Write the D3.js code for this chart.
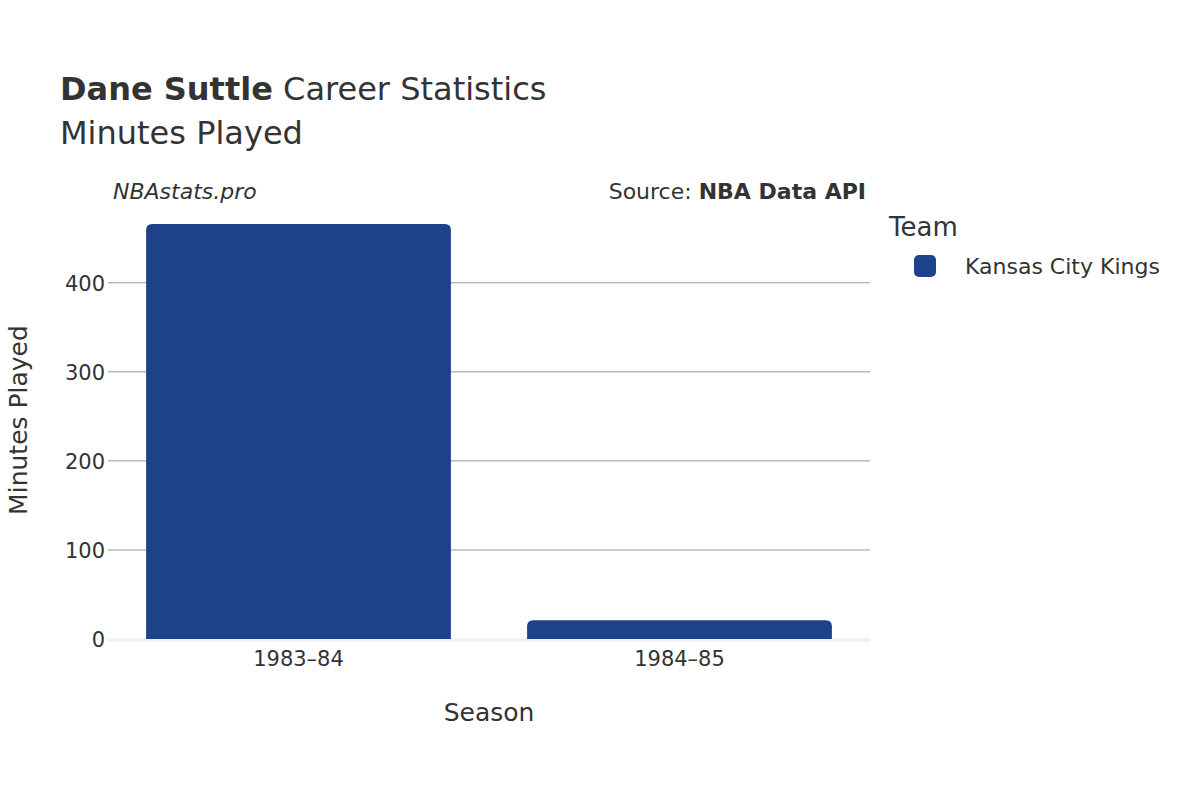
<!DOCTYPE html>
<html><head><meta charset="utf-8">
<script src="https://cdn.jsdelivr.net/npm/d3@7"></script>
<style>body{margin:0;background:#fff}text{font-family:"DejaVu Sans",sans-serif;fill:#333}</style>
</head><body><svg id="c" width="1200" height="800"></svg>
<script>
const seasons = ["1983\u201384", "1984\u201385"];
const minutes = [466, 21];
const ticks = [0, 100, 200, 300, 400];
const team = "Kansas City Kings";
const color = "#1d4289";

const svg = d3.select("#c");
const m = {left: 108, right: 870, top: 224, bottom: 639};
const x = d3.scaleBand().domain(seasons).range([m.left, m.right]).paddingInner(0.2).paddingOuter(0.1);
const y = d3.scaleLinear().domain([0, 466]).range([m.bottom, m.top]);

// grid
svg.append("g").selectAll("line").data(ticks.filter(t => t > 0)).join("line")
  .attr("x1", m.left).attr("x2", m.right).attr("y1", d => y(d)).attr("y2", d => y(d))
  .attr("stroke", "#999").attr("stroke-width", 1);
svg.append("line").attr("x1", m.left).attr("x2", m.right).attr("y1", y(0) + 1).attr("y2", y(0) + 1)
  .attr("stroke", "#eee").attr("stroke-width", 3);
svg.append("g").selectAll("text").data(ticks).join("text")
  .attr("x", m.left - 3).attr("y", d => y(d) + 8).attr("text-anchor", "end")
  .attr("font-size", 21).text(d => d);

// bars with rounded top
const r = 6;
svg.append("g").selectAll("path").data(seasons).join("path")
  .attr("fill", color)
  .attr("d", (s, i) => {
    const x0 = x(s), w = x.bandwidth(), y0 = y(minutes[i]), yb = y(0);
    return `M${x0},${yb}V${y0 + r}Q${x0},${y0} ${x0 + r},${y0}H${x0 + w - r}Q${x0 + w},${y0} ${x0 + w},${y0 + r}V${yb}Z`;
  });
svg.append("g").selectAll("text").data(seasons).join("text")
  .attr("x", d => x(d) + x.bandwidth() / 2).attr("y", 666).attr("text-anchor", "middle")
  .attr("font-size", 21).text(d => d);

// titles
const t = svg.append("text").attr("x", 60).attr("y", 100).attr("font-size", 32);
t.append("tspan").attr("font-weight", "bold").text("Dane Suttle");
t.append("tspan").text(" Career Statistics");
svg.append("text").attr("x", 60).attr("y", 144).attr("font-size", 32).text("Minutes Played");
svg.append("text").attr("x", 113).attr("y", 199).attr("font-size", 22).attr("font-style", "italic").text("NBAstats.pro");
const s = svg.append("text").attr("x", 866).attr("y", 199).attr("font-size", 22).attr("text-anchor", "end");
s.append("tspan").text("Source: ");
s.append("tspan").attr("font-weight", "bold").text("NBA Data API");
svg.append("text").attr("x", 489).attr("y", 721).attr("font-size", 25).attr("text-anchor", "middle").text("Season");
svg.append("text").attr("transform", "translate(27,420) rotate(-90)").attr("font-size", 25)
  .attr("text-anchor", "middle").text("Minutes Played");

// legend
svg.append("text").attr("x", 889).attr("y", 236).attr("font-size", 26).text("Team");
svg.append("rect").attr("x", 914).attr("y", 255).attr("width", 22).attr("height", 22).attr("rx", 5).attr("fill", color);
svg.append("text").attr("x", 965).attr("y", 274).attr("font-size", 22).text(team);
</script></body></html>
